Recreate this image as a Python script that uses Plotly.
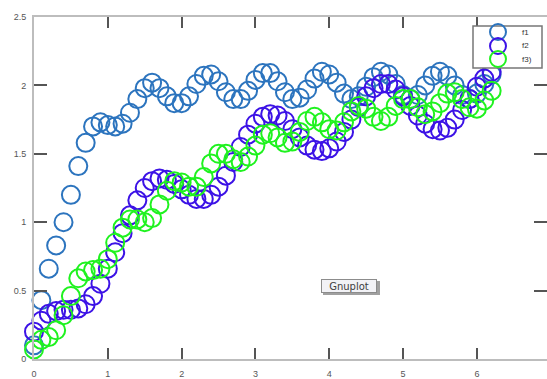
import plotly.graph_objects as go

# x samples (0 .. 6.2, step 0.1)
x_vals = [round(0.1 * k, 1) for k in range(63)]

f1_vals = [0.10, 0.43, 0.66, 0.83, 1.00, 1.20, 1.41, 1.58, 1.70, 1.73,
           1.71, 1.70, 1.72, 1.80, 1.90, 1.98, 2.02, 1.98, 1.92, 1.87,
           1.87, 1.92, 2.01, 2.07, 2.08, 2.03, 1.95, 1.90, 1.90, 1.96,
           2.04, 2.09, 2.09, 2.03, 1.95, 1.90, 1.91, 1.97, 2.05, 2.10,
           2.08, 2.02, 1.94, 1.90, 1.92, 1.99, 2.06, 2.10, 2.08, 2.01,
           1.93, 1.90, 1.93, 2.00, 2.07, 2.10, 2.07, 2.00, 1.93, 1.90,
           1.94, 2.01, 2.08]

f2_vals = [0.20, 0.28, 0.33, 0.35, 0.36, 0.36, 0.37, 0.40, 0.46, 0.55,
           0.66, 0.78, 0.92, 1.05, 1.16, 1.25, 1.30, 1.32, 1.31, 1.28,
           1.24, 1.20, 1.17, 1.17, 1.20, 1.26, 1.34, 1.44, 1.55, 1.64,
           1.72, 1.77, 1.79, 1.78, 1.74, 1.68, 1.62, 1.56, 1.53, 1.52,
           1.54, 1.59, 1.66, 1.75, 1.84, 1.92, 1.98, 2.01, 2.01, 1.97,
           1.92, 1.85, 1.78, 1.72, 1.68, 1.67, 1.69, 1.75, 1.82, 1.90,
           1.99, 2.05, 2.10]

f3_vals = [0.07, 0.14, 0.16, 0.21, 0.32, 0.46, 0.59, 0.64, 0.65, 0.66,
           0.73, 0.85, 0.96, 1.02, 1.02, 1.00, 1.03, 1.13, 1.23, 1.30,
           1.29, 1.26, 1.26, 1.33, 1.43, 1.50, 1.50, 1.46, 1.44, 1.48,
           1.56, 1.64, 1.65, 1.62, 1.58, 1.59, 1.66, 1.74, 1.77, 1.73,
           1.68, 1.67, 1.73, 1.81, 1.85, 1.83, 1.77, 1.74, 1.77, 1.85,
           1.90, 1.90, 1.84, 1.79, 1.81, 1.87, 1.94, 1.95, 1.90, 1.84,
           1.83, 1.89, 1.96]

series_names = ["f1", "f2", "f3)"]
series_colors = ["#2c74be", "#3c12e6", "#1ff21f"]
x_ticks = [0, 1, 2, 3, 4, 5, 6]
y_ticks = [0, 0.5, 1, 1.5, 2, 2.5]
y_tick_text = ["0", "0.5", "1", "1.5", "2", "2.5"]

W, H = 547, 379
ML, MR, MT, MB = 34, 0, 17, 20
PW, PH = W - ML - MR, H - MT - MB


def px_x(px):
    return (px - ML) / PW


def px_y(py):
    return (H - MB - py) / PH


fig = go.Figure()
for name, vals, col in zip(series_names, [f1_vals, f2_vals, f3_vals], series_colors):
    fig.add_trace(go.Scatter(
        x=x_vals, y=vals, mode="markers", name=name,
        marker=dict(symbol="circle-open", size=18, color=col,
                    line=dict(width=2, color=col)),
        cliponaxis=False, showlegend=False,
    ))

tickfont = dict(family="Liberation Sans, Arial, sans-serif", size=9, color="#555555")

fig.update_layout(
    width=W, height=H,
    margin=dict(l=ML, r=MR, t=MT, b=MB, autoexpand=False),
    paper_bgcolor="white", plot_bgcolor="white",
    showlegend=False,
    xaxis=dict(
        range=[0, 6.95], tickvals=x_ticks, ticktext=[str(v) for v in x_ticks],
        showgrid=False, zeroline=False, automargin=False,
        showline=True, linecolor="#bdbdbd", linewidth=2, mirror="ticks",
        ticks="inside", ticklen=11, tickwidth=1.5, tickcolor="#555555",
        tickfont=tickfont, ticklabelstandoff=5,
    ),
    yaxis=dict(
        range=[0, 2.5], tickvals=y_ticks, ticktext=y_tick_text,
        showgrid=False, zeroline=False, automargin=False,
        showline=True, linecolor="#bdbdbd", linewidth=2, mirror="ticks",
        ticks="inside", ticklen=13, tickwidth=1.5, tickcolor="#555555",
        tickfont=tickfont, ticklabelstandoff=4,
    ),
)

# ---- legend box (drawn manually to match the compact original) ----
shapes = [dict(type="rect", xref="paper", yref="paper",
               x0=px_x(473), x1=px_x(542), y0=px_y(68), y1=px_y(26),
               line=dict(color="#777777", width=1.5), fillcolor="white",
               layer="above")]
legend_rows_py = [32, 46, 59]
for name, col, py in zip(series_names, series_colors, legend_rows_py):
    shapes.append(dict(type="circle", xref="paper", yref="paper",
                       xsizemode="pixel", ysizemode="pixel",
                       xanchor=px_x(498), yanchor=px_y(py),
                       x0=-8, x1=8, y0=-8, y1=8,
                       line=dict(color=col, width=2), layer="above"))
    fig.add_annotation(x=px_x(520), y=px_y(py), xref="paper", yref="paper",
                       xanchor="left", yanchor="middle", showarrow=False,
                       text=name,
                       font=dict(family="Liberation Sans, Arial, sans-serif",
                                 size=8, color="#333333"))

# "Gnuplot" label: shadow + box
shapes.append(dict(type="rect", xref="paper", yref="paper",
                   x0=px_x(323), x1=px_x(380), y0=px_y(295), y1=px_y(281),
                   line=dict(width=0), fillcolor="#a0a0a0", layer="above"))
fig.update_layout(shapes=shapes)
fig.add_annotation(
    x=px_x(349), y=px_y(286), xref="paper", yref="paper",
    xanchor="center", yanchor="middle",
    text="Gnuplot", showarrow=False, width=54, height=12,
    font=dict(family="DejaVu Sans, sans-serif", size=10, color="#404040"),
    bgcolor="#f2f2f6", borderpad=0, borderwidth=1, bordercolor="#8c8c8c",
)

fig.write_html(
    "out.html",
    config={"displayModeBar": False},
    post_script="document.body.style.margin='0px';document.body.style.overflow='hidden';",
)
